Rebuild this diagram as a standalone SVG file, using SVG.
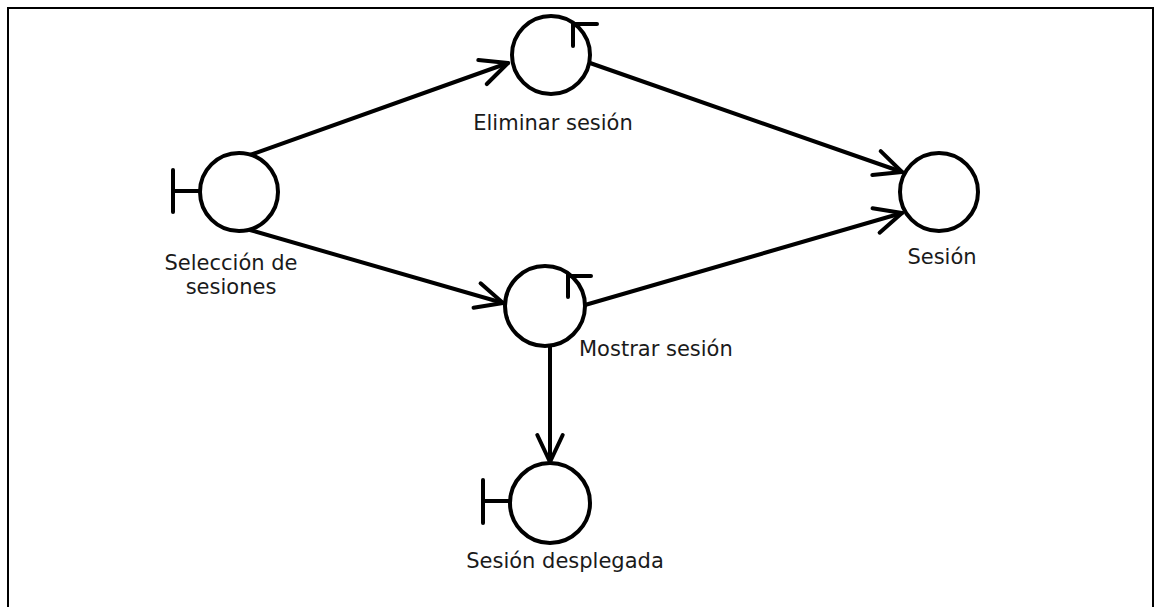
<svg xmlns="http://www.w3.org/2000/svg" width="1161" height="607" viewBox="0 0 1161 607">
  <defs>
    <marker id="arrow" markerUnits="userSpaceOnUse" markerWidth="60" markerHeight="60" refX="0" refY="0" viewBox="-40 -30 60 60" orient="auto" overflow="visible">
      <path d="M-27,-12.7 L0,0 L-27,12.7" fill="none" stroke="#000" stroke-width="4" stroke-linecap="round" stroke-linejoin="round"/>
    </marker>
  </defs>
  <style>
    .shape { fill: #fff; stroke: #000; stroke-width: 4; }
    .sym { fill: none; stroke: #000; stroke-width: 4; stroke-linecap: round; }
    .conn { fill: none; stroke: #000; stroke-width: 4; stroke-linecap: round; marker-end: url(#arrow); }
    .label { font-family: "DejaVu Sans", Verdana, sans-serif; font-size: 21px; fill: #1a1a1a; }
    .frame { fill: none; stroke: #000; stroke-width: 2; }
  </style>
  <rect x="0" y="0" width="1161" height="607" fill="#fff"/>
  <path class="frame" d="M8,607 L8,8 L1153,8 L1153,607"/>

  <g id="connectors">
    <line class="conn" x1="250" y1="155" x2="508" y2="63"/>
    <line class="conn" x1="250" y1="230" x2="503" y2="303"/>
    <line class="conn" x1="590" y1="63" x2="902" y2="172"/>
    <line class="conn" x1="585" y1="305" x2="902" y2="213"/>
    <line class="conn" x1="550" y1="346" x2="550" y2="462"/>
  </g>

  <g id="seleccion">
    <line class="sym" x1="173" y1="170" x2="173" y2="212"/>
    <line class="sym" x1="173" y1="191" x2="200" y2="191"/>
    <circle class="shape" cx="239" cy="192" r="39"/>
    <text class="label" x="231" y="270" text-anchor="middle">Selección de</text>
    <text class="label" x="231" y="294" text-anchor="middle">sesiones</text>
  </g>

  <g id="eliminar">
    <circle class="shape" cx="551" cy="55" r="39"/>
    <path class="sym" d="M573,46 L573,24 L597,24"/>
    <text class="label" x="553" y="130" text-anchor="middle">Eliminar sesión</text>
  </g>

  <g id="mostrar">
    <circle class="shape" cx="545" cy="306" r="40"/>
    <path class="sym" d="M568,297 L568,276 L591,276"/>
    <text class="label" x="579" y="356">Mostrar sesión</text>
  </g>

  <g id="sesion">
    <circle class="shape" cx="939" cy="192" r="39"/>
    <text class="label" x="942" y="264" text-anchor="middle">Sesión</text>
  </g>

  <g id="desplegada">
    <line class="sym" x1="483" y1="480" x2="483" y2="523"/>
    <line class="sym" x1="483" y1="501" x2="510" y2="501"/>
    <circle class="shape" cx="550" cy="503" r="40"/>
    <text class="label" x="565" y="568" text-anchor="middle">Sesión desplegada</text>
  </g>
</svg>
